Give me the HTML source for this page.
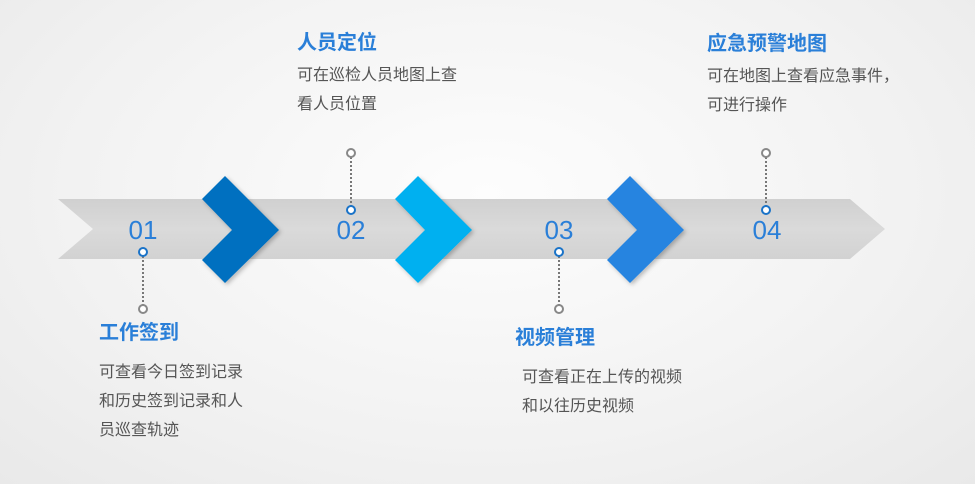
<!DOCTYPE html>
<html><head><meta charset="utf-8"><style>
body{margin:0;width:975px;height:484px;overflow:hidden;background:radial-gradient(ellipse at 50% 40%,#fdfdfd 0%,#f2f2f2 60%,#e9e9e9 100%);font-family:"Liberation Sans","Noto Sans CJK SC",sans-serif;position:relative}
.t{position:absolute;color:#2a7fd8;font-weight:bold;font-size:20px;line-height:24px;white-space:nowrap}
.d{position:absolute;color:#555;font-size:16px;line-height:29px;white-space:nowrap}
</style></head><body>
<svg width="975" height="484" style="position:absolute;left:0;top:0">
<defs><filter id="s" x="-20%" y="-20%" width="140%" height="140%"><feDropShadow dx="2" dy="2" stdDeviation="2" flood-opacity="0.25"/></filter>
<linearGradient id="b" x1="0" y1="0" x2="0" y2="1"><stop offset="0" stop-color="#d0d0d0"/><stop offset="0.5" stop-color="#dadada"/><stop offset="1" stop-color="#d2d2d2"/></linearGradient></defs>
<polygon points="58,199 850,199 885,229 850,259 58,259 93,229" fill="url(#b)"/>
<g filter="url(#s)">
<polygon points="202,199 225,176 279,230 225,283 202,260 232,230" fill="#0070c0"/>
<polygon points="395,199 418,176 472,230 418,283 395,260 425,230" fill="#00b0f0"/>
<polygon points="607,199 630,176 684,230 630,283 607,260 637,230" fill="#2784e0"/>
</g>
<g font-size="26" fill="#2a7fd8" text-anchor="middle" font-family="Liberation Sans">
<text x="143" y="239">01</text><text x="351" y="239">02</text><text x="559" y="239">03</text><text x="767" y="239">04</text></g>
<g stroke="#777" stroke-width="2" stroke-dasharray="2,2">
<line x1="143" y1="256" x2="143" y2="305"/><line x1="351" y1="157" x2="351" y2="206"/>
<line x1="559" y1="256" x2="559" y2="305"/><line x1="766" y1="157" x2="766" y2="206"/></g>
<g fill="#fff" stroke-width="2">
<circle cx="143" cy="252" r="4" stroke="#1a73c8"/><circle cx="143" cy="309" r="4" stroke="#888"/>
<circle cx="351" cy="210" r="4" stroke="#1a73c8"/><circle cx="351" cy="153" r="4" stroke="#888"/>
<circle cx="559" cy="252" r="4" stroke="#1a73c8"/><circle cx="559" cy="309" r="4" stroke="#888"/>
<circle cx="766" cy="210" r="4" stroke="#1a73c8"/><circle cx="766" cy="153" r="4" stroke="#888"/></g>
</svg>
<div class="t" style="left:297px;top:31px">人员定位</div>
<div class="d" style="left:297px;top:61px">可在巡检人员地图上查<br>看人员位置</div>
<div class="t" style="left:99px;top:321px">工作签到</div>
<div class="d" style="left:99px;top:358px">可查看今日签到记录<br>和历史签到记录和人<br>员巡查轨迹</div>
<div class="t" style="left:515px;top:326px">视频管理</div>
<div class="d" style="left:522px;top:363px">可查看正在上传的视频<br>和以往历史视频</div>
<div class="t" style="left:707px;top:32px">应急预警地图</div>
<div class="d" style="left:707px;top:62px">可在地图上查看应急事件，<br>可进行操作</div>
</body></html>
